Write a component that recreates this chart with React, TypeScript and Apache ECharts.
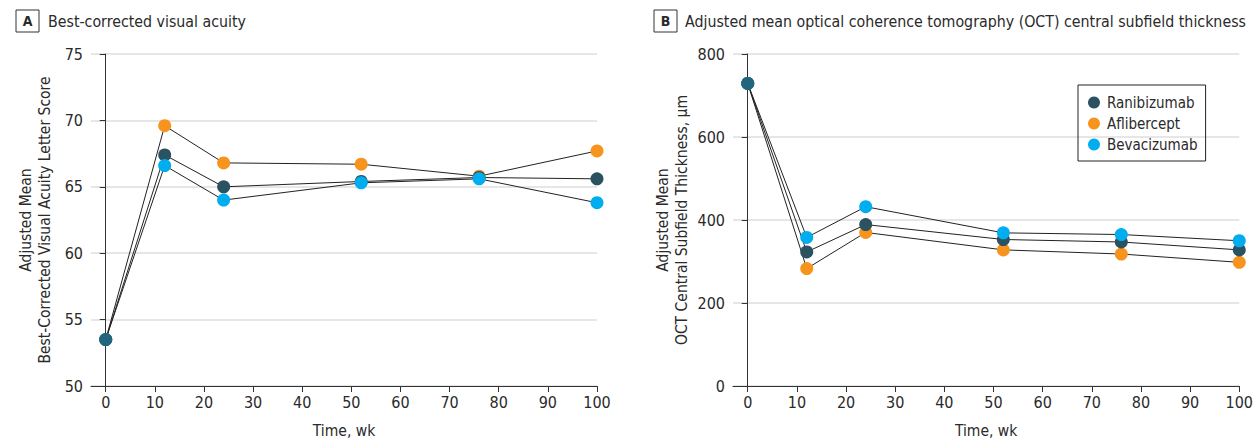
import React, { useEffect, useRef } from "react";
import * as echarts from "echarts";

const weeks = [0, 12, 24, 52, 76, 100];
const seriesNames = ["Ranibizumab", "Aflibercept", "Bevacizumab"];
const seriesColors = ["#2b5260", "#f7941d", "#00aeef"];

// Panel A: best-corrected visual acuity letter score
const vaRanibizumab = [53.5, 67.4, 65.0, 65.4, 65.7, 65.6];
const vaAflibercept = [53.5, 69.6, 66.8, 66.7, 65.8, 67.7];
const vaBevacizumab = [53.5, 66.6, 64.0, 65.3, 65.6, 63.8];
const vaBaseline = 53.5;

// Panel B: OCT central subfield thickness, µm
const octRanibizumab = [729, 323, 389, 353, 347, 328];
const octAflibercept = [729, 283, 370, 328, 318, 298];
const octBevacizumab = [729, 358, 432, 369, 365, 350];
const octBaseline = 729;

const xTicks = [0, 10, 20, 30, 40, 50, 60, 70, 80, 90, 100];

const FONT = "'DejaVu Sans Condensed', 'Noto Sans', sans-serif";
const TXT = "#2a2a2a";

export default function App() {
  const ref = useRef<HTMLDivElement>(null);
  useEffect(() => {
    if (!ref.current) return;
    const chart = echarts.init(ref.current, undefined, { renderer: "svg" });
    const pairs = (vals: number[]) => weeks.map((w, i) => [w, vals[i]]);
    const xAxis = (gridIndex: number) => ({
      type: "value" as const,
      gridIndex,
      min: -3,
      max: 100,
      interval: 10,
      name: "Time, wk",
      nameLocation: "middle" as const,
      nameGap: 37,
      nameTextStyle: { fontFamily: FONT, fontSize: 15.5, color: TXT },
      axisLine: { show: true, onZero: false, lineStyle: { color: "#333", width: 1 } },
      axisTick: { show: true, length: 6, lineStyle: { color: "#333" }, customValues: xTicks },
      axisLabel: { fontFamily: FONT, fontSize: 16, color: TXT, margin: 8, customValues: xTicks },
      splitLine: { show: false },
    });
    const yAxis = (gridIndex: number, min: number, max: number, interval: number, name: string, gap: number) => ({
      type: "value" as const,
      gridIndex,
      min,
      max,
      interval,
      name,
      nameLocation: "middle" as const,
      nameRotate: 90,
      nameGap: gap,
      nameTextStyle: { fontFamily: FONT, fontSize: 15.5, color: TXT, lineHeight: 19, align: "center" as const },
      axisLine: { show: true, lineStyle: { color: "#333", width: 1 } },
      axisTick: { show: true, length: 6, lineStyle: { color: "#333" } },
      axisLabel: { fontFamily: FONT, fontSize: 16, color: TXT, margin: 8 },
      splitLine: { show: true, lineStyle: { color: "#dedede", width: 1.5 } },
    });
    const lineSeries = (name: string, color: string, vals: number[], idx: number, z: number) => ({
      type: "line" as const,
      name,
      xAxisIndex: idx,
      yAxisIndex: idx,
      data: pairs(vals),
      symbol: "circle",
      symbolSize: 13,
      showAllSymbol: true,
      z,
      lineStyle: { color: "#222", width: 1 },
      itemStyle: { color, borderWidth: 0 },
    });
    const vaSets = [vaRanibizumab, vaAflibercept, vaBevacizumab];
    const octSets = [octRanibizumab, octAflibercept, octBevacizumab];
    const zA = [3, 2, 4];
    const zB = [3, 2, 4];
    chart.setOption({
      animation: false,
      textStyle: { fontFamily: FONT },
      grid: [
        { left: 91, top: 54, width: 506, height: 338, containLabel: false },
        { left: 733, top: 54, width: 507, height: 338, containLabel: false },
      ],
      xAxis: [xAxis(0), xAxis(1)],
      yAxis: [
        yAxis(0, 50, 75, 5, "Adjusted Mean\nBest-Corrected Visual Acuity Letter Score", 37),
        yAxis(1, 0, 800, 200, "Adjusted Mean\nOCT Central Subfield Thickness, µm", 42),
      ],
      legend: {
        data: seriesNames,
        orient: "vertical",
        left: 1078,
        top: 85,
        padding: [10, 8, 9, 10],
        borderColor: "#222",
        borderWidth: 1,
        itemGap: 6,
        itemWidth: 12,
        itemHeight: 12,
        icon: "circle",
        textStyle: { fontFamily: FONT, fontSize: 15, color: TXT, padding: [0, 0, 0, 2] },
      },
      series: [
        ...seriesNames.map((n, i) => lineSeries(n, seriesColors[i], vaSets[i], 0, zA[i])),
        ...seriesNames.map((n, i) => lineSeries(n, seriesColors[i], octSets[i], 1, zB[i])),
        {
          type: "scatter",
          xAxisIndex: 0,
          yAxisIndex: 0,
          data: [[weeks[0], vaBaseline]],
          symbolSize: 13,
          z: 6,
          itemStyle: { color: seriesColors[0] },
        },
        {
          type: "scatter",
          xAxisIndex: 1,
          yAxisIndex: 1,
          data: [[weeks[0], octBaseline]],
          symbolSize: 13,
          z: 6,
          itemStyle: { color: seriesColors[0] },
        },
      ],
      graphic: [
        { type: "rect", shape: { x: 16, y: 10, width: 23, height: 22 }, style: { fill: "#fff", stroke: "#333", lineWidth: 1 } },
        { type: "text", x: 27.5, y: 21, style: { text: "A", font: `bold 14px ${FONT}`, fill: TXT, align: "center", verticalAlign: "middle" } },
        { type: "text", x: 48, y: 21, style: { text: "Best-corrected visual acuity", font: `15.8px ${FONT}`, fill: TXT, align: "left", verticalAlign: "middle" } },
        { type: "rect", shape: { x: 654, y: 10, width: 23, height: 22 }, style: { fill: "#fff", stroke: "#333", lineWidth: 1 } },
        { type: "text", x: 665.5, y: 21, style: { text: "B", font: `bold 14px ${FONT}`, fill: TXT, align: "center", verticalAlign: "middle" } },
        { type: "text", x: 685, y: 21, style: { text: "Adjusted mean optical coherence tomography (OCT) central subfield thickness", font: `15.8px ${FONT}`, fill: TXT, align: "left", verticalAlign: "middle" } },
      ],
    });
    return () => chart.dispose();
  }, []);
  return <div ref={ref} style={{ position: "absolute", left: 0, top: 0, width: 1256, height: 444, background: "#fff" }} />;
}
